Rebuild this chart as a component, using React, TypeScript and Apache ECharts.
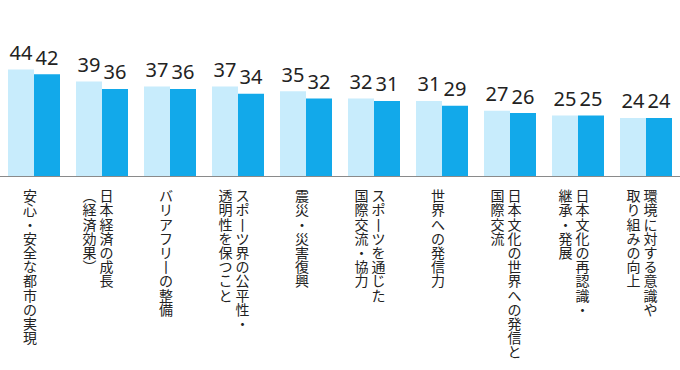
import React, { useEffect, useRef } from "react";
import * as echarts from "echarts";

const categories = [
  "安心・安全な都市の実現",
  "日本経済の成長\n（経済効果）",
  "バリアフリーの整備",
  "スポーツ界の公平性・\n透明性を保つこと",
  "震災・災害復興",
  "スポーツを通じた\n国際交流・協力",
  "世界への発信力",
  "日本文化の世界への発信と\n国際交流",
  "日本文化の再認識・\n継承・発展",
  "環境に対する意識や\n取り組みの向上",
];
const seriesA = [44, 39, 37, 37, 35, 32, 31, 27, 25, 24];
const seriesB = [42, 36, 36, 34, 32, 31, 29, 26, 25, 24];

const verticalMap: Record<string, string> = { "（": "︵", "）": "︶", "ー": "丨" };

function toVertical(label: string): string {
  const cols = label.split("\n").map((c) => Array.from(c).map((ch) => verticalMap[ch] ?? ch));
  const maxLen = Math.max(...cols.map((c) => c.length));
  const ordered = cols.slice().reverse();
  const lines: string[] = [];
  for (let i = 0; i < maxLen; i++) {
    lines.push(ordered.map((c) => c[i] ?? "　").join(" "));
  }
  return lines.join("\n");
}

export default function App() {
  const ref = useRef<HTMLDivElement>(null);
  useEffect(() => {
    if (!ref.current) return;
    const chart = echarts.init(ref.current, undefined, { renderer: "svg" });
    const labelStyle = {
      show: true,
      position: "top" as const,
      distance: 7,
      fontFamily: "Noto Sans",
      fontSize: 20,
      color: "#222",
    };
    chart.setOption({
      animation: false,
      grid: { left: -1, right: -1, top: 55, bottom: 194, containLabel: false },
      xAxis: {
        type: "category",
        data: categories,
        axisLine: { lineStyle: { color: "#8a8a8a", width: 1 } },
        axisTick: { show: false },
        axisLabel: {
          interval: 0,
          margin: 12,
          fontFamily: "Noto Sans CJK JP",
          fontSize: 14,
          lineHeight: 14.2,
          color: "#222",
          verticalAlign: "top",
          padding: [0, 8, 0, 0],
          formatter: (v: string) => toVertical(v),
        },
      },
      yAxis: {
        type: "value",
        min: 0,
        max: 50,
        show: false,
        splitLine: { show: false },
      },
      series: [
        {
          type: "bar",
          data: seriesA,
          barWidth: 26,
          barGap: "0%",
          itemStyle: { color: "#c8ecfc" },
          label: labelStyle,
        },
        {
          type: "bar",
          data: seriesB,
          barWidth: 26,
          barGap: "0%",
          itemStyle: { color: "#12a9ea" },
          label: labelStyle,
        },
      ],
    });
    return () => chart.dispose();
  }, []);
  return <div ref={ref} style={{ width: 680, height: 370, position: "absolute", left: 0, top: 0 }} />;
}
